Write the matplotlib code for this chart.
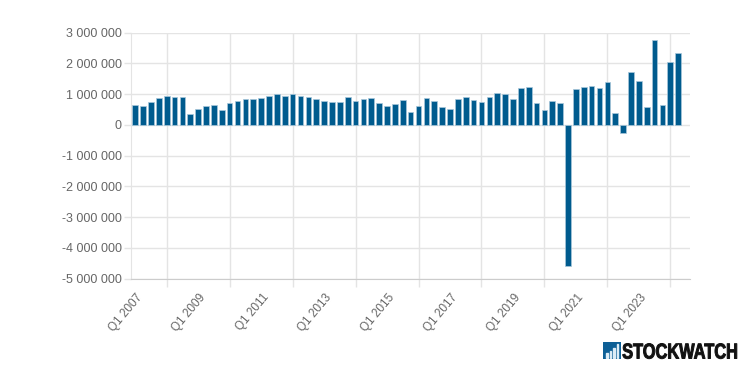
import matplotlib
matplotlib.use("Agg")
import matplotlib.pyplot as plt
import matplotlib.transforms as mtrans
import numpy as np
from matplotlib.patches import Rectangle
from matplotlib.patheffects import AbstractPathEffect

# --- Data ---
values = [
    0.66, 0.60, 0.74, 0.87, 0.93, 0.90, 0.90, 0.35, 0.53, 0.60,
    0.63, 0.49, 0.71, 0.77, 0.84, 0.85, 0.86, 0.95, 1.00, 0.93,
    1.00, 0.93, 0.90, 0.84, 0.77, 0.74, 0.74, 0.92, 0.78, 0.84,
    0.86, 0.71, 0.62, 0.68, 0.80, 0.43, 0.62, 0.86, 0.76, 0.58,
    0.51, 0.84, 0.89, 0.80, 0.74, 0.91, 1.03, 0.99, 0.84, 1.21,
    1.22, 0.71, 0.48, 0.79, 0.70, -4.60, 1.16, 1.22, 1.25, 1.20,
    1.40, 0.40, -0.25, 1.72, 1.43, 0.58, 2.77, 0.66, 2.03, 2.34,
]
values = [v * 1e6 for v in values]
years = list(range(2007, 2024))
quarters = [f"Q{q} {y}" for y in years for q in (1, 2, 3, 4)][:70]
yticks = [3000000, 2000000, 1000000, 0, -1000000, -2000000, -3000000, -4000000, -5000000]

W, H = 749, 368
LEFT, RIGHT, TOP, BOTTOM = 131.3, 690, 32.6, 278.6
BLUE = "#005b8e"
GRID = "#e4e4e4"
TEXT = "#666666"

plt.rcParams["font.family"] = ["Liberation Sans", "DejaVu Sans"]


class Squeeze(AbstractPathEffect):
    # narrow the logo lettering about its right edge, no condensed font installed
    def __init__(self, right, sx, stroke):
        super().__init__()
        self.right = right
        self.sx = sx
        self.stroke = stroke

    def draw_path(self, renderer, gc, tpath, affine, rgbFace=None):
        squeeze = mtrans.Affine2D().translate(-self.right, 0).scale(self.sx, 1).translate(self.right, 0)
        gc0 = renderer.new_gc()
        gc0.copy_properties(gc)
        gc0.set_linewidth(self.stroke)
        gc0.set_foreground(rgbFace)
        renderer.draw_path(gc0, tpath, affine + squeeze, rgbFace)
        gc0.restore()


fig = plt.figure(figsize=(W / 100, H / 100), dpi=100)
ax = fig.add_axes([LEFT / W, 1 - BOTTOM / H, (RIGHT - LEFT) / W, (BOTTOM - TOP) / H])

x = np.arange(len(values))
ax.bar(x, values, width=0.72, color=BLUE, edgecolor="#a9c8db", linewidth=0.5, zorder=3)

ax.set_xlim(-0.5, 70.5)
ax.set_ylim(-5000000, 3000000)

# grid lines sit between the labelled quarters, labels on every 8th bar
ax.set_xticks(x[4::8])
ax.set_xticklabels([])
ax.set_xticks(x[0::8], minor=True)
ax.set_xticklabels(quarters[0::8], minor=True, rotation=50, ha="right", va="center",
                   rotation_mode="anchor", fontsize=8.5, color=TEXT)
ax.tick_params(axis="x", which="major", length=5.8, width=1, color=GRID)
ax.tick_params(axis="x", which="minor", length=0, pad=12)
offset = mtrans.ScaledTranslation(5.5 / 100, 0, fig.dpi_scale_trans)
for lab in ax.get_xticklabels(minor=True):
    lab.set_transform(lab.get_transform() + offset)

ax.set_yticks(yticks)
ax.set_yticklabels([f"{v:,}".replace(",", " ") for v in yticks], fontsize=9, color=TEXT)
ax.tick_params(axis="y", length=5, width=1, color=GRID, pad=2)

ax.grid(True, which="major", color=GRID, linewidth=1, zorder=0)
ax.set_axisbelow(True)
for side in ("top", "right"):
    ax.spines[side].set_visible(False)
ax.spines["left"].set_color(GRID)
ax.spines["bottom"].set_color("#cccccc")

# --- Logo ---
logo = fig.add_axes([603 / W, 1 - 359 / H, 18 / W, 17 / H])
logo.set_xlim(0, 18)
logo.set_ylim(0, 17)
logo.axis("off")
logo.add_patch(Rectangle((0, 0), 18, 17, color="#0d5f96"))
for bx, bh in zip([3, 6.5, 10, 13.5], [5, 7, 10, 14]):
    logo.add_patch(Rectangle((bx, 1.5), 1.8, bh, color="#dcecf6"))
fig.text(737.5 / W, 1 - 358.5 / H, "STOCKWATCH", fontsize=15.5, fontweight="bold", color="#111111",
         va="baseline", ha="right", path_effects=[Squeeze(737.5, 0.76, 0.7)])

fig.savefig("out.png", dpi=100)
